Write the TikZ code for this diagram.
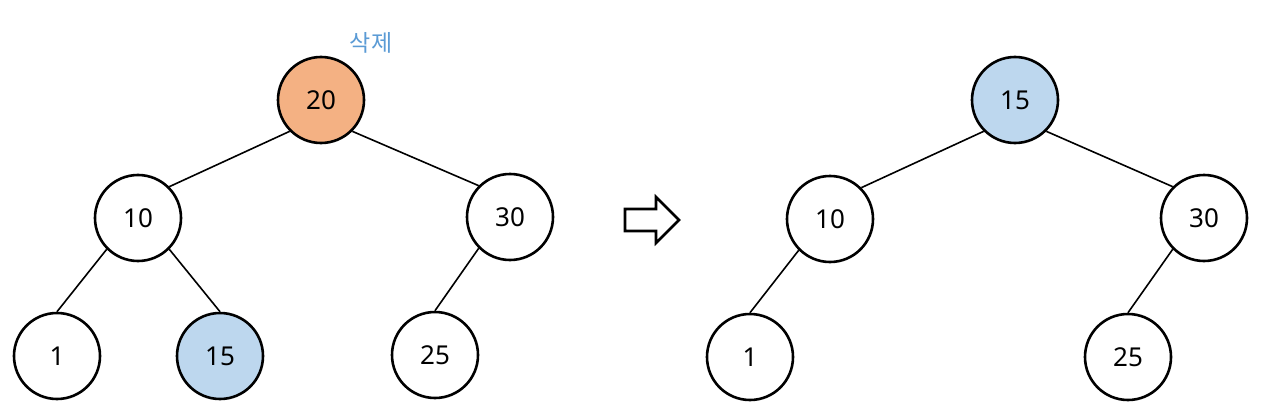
\documentclass[tikz,border=0pt]{standalone}
\usepackage{fontspec}
\setmainfont{Noto Sans}
\newfontfamily\kr{Noto Sans CJK KR}
\definecolor{orangefill}{HTML}{F4B183}
\definecolor{bluefill}{HTML}{BDD7EE}
\definecolor{labelblue}{HTML}{5B9BD5}
\begin{document}
\begin{tikzpicture}[x=1pt,y=-1pt,
  treenode/.style={circle,draw=black,line width=2.6pt,minimum size=86pt,inner sep=0pt,fill=white,font=\fontsize{26}{30}\selectfont},
  edge/.style={line width=1.6pt},
  del/.style={treenode,fill=orangefill},
  moved/.style={treenode,fill=bluefill}]
\useasboundingbox (0,0) rectangle (1272,420);
% left tree
\node[del] (a20) at (321,100) {20};
\node[treenode] (a10) at (138,218) {10};
\node[treenode] (a30) at (510,217) {30};
\node[treenode] (a1) at (57,356) {1};
\node[moved] (a15) at (220,356) {15};
\node[treenode] (a25) at (435,355) {25};
\node[text=labelblue,font=\kr\fontsize{23}{26}\selectfont] (lbl) at (371,43) {삭제};
\draw[edge] (a20.south west) -- (a10.north east);
\draw[edge] (a20.south east) -- (a30.north west);
\draw[edge] (a10.south west) -- (a1.north);
\draw[edge] (a10.south east) -- (a15.north);
\draw[edge] (a30.south west) -- (a25.north);
% arrow
\draw[line width=2.6pt,line join=miter] (625,209) -- (656,209) -- (656,197) -- (679,220) -- (656,243) -- (656,231) -- (625,231) -- cycle;
% right tree
\node[moved] (b15) at (1015,100) {15};
\node[treenode] (b10) at (830,219) {10};
\node[treenode] (b30) at (1204,218) {30};
\node[treenode] (b1) at (750,357) {1};
\node[treenode] (b25) at (1128,357) {25};
\draw[edge] (b15.south west) -- (b10.north east);
\draw[edge] (b15.south east) -- (b30.north west);
\draw[edge] (b10.south west) -- (b1.north);
\draw[edge] (b30.south west) -- (b25.north);
\end{tikzpicture}
\end{document}
